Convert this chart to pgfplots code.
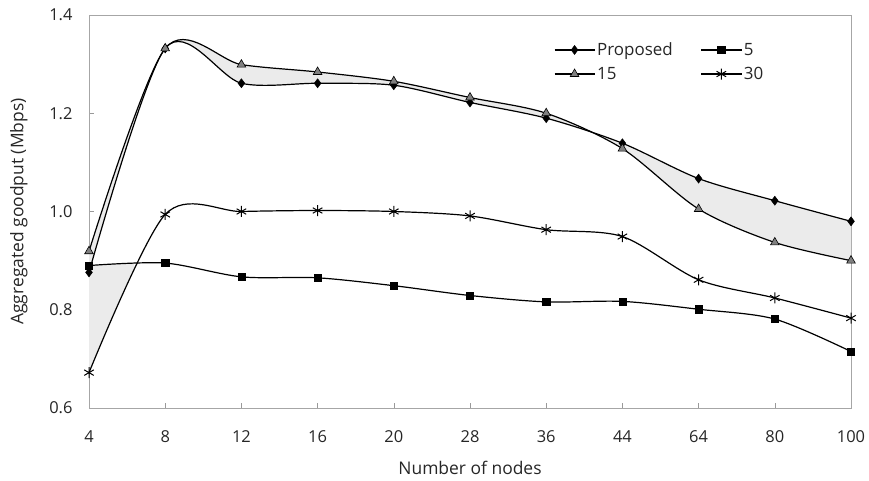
\documentclass[border=0pt]{standalone}
\usepackage{pgfplots}
\pgfplotsset{compat=1.18}
\usepgfplotslibrary{fillbetween}
\usepackage{fontspec}
\setmainfont{Open Sans}
\begin{document}
\begin{tikzpicture}
\begin{axis}[
  set layers,
  at={(0,0)}, anchor=south west,
  width=762bp, height=393bp, scale only axis,
  xmin=0, xmax=10, ymin=0.6, ymax=1.4,
  xtick={0,1,2,3,4,5,6,7,8,9,10},
  xticklabels={4,8,12,16,20,28,36,44,64,80,100},
  ytick={0.6,0.8,1.0,1.2,1.4},
  yticklabel style={/pgf/number format/fixed, /pgf/number format/fixed zerofill, /pgf/number format/precision=1, xshift=-13bp},
  /pgf/number format/assume math mode=true,
  tick pos=left, tick align=inside,
  major tick length=5bp,
  tick style={gray!80, line width=0.5bp},
  axis line style={gray!70, line width=0.6bp},
  tick label style={font=\fontsize{16.5}{19}\selectfont, text=black!85},
  xticklabel style={yshift=-19bp},
  xlabel={Number of nodes},
  ylabel={Aggregated goodput (Mbps)},
  label style={font=\fontsize{17.5}{20}\selectfont, text=black!85},
  xlabel style={at={(axis description cs:0.5,0)}, anchor=north, yshift=-50bp},
  ylabel style={at={(axis description cs:-0.108,0.5)}, anchor=north},
  legend columns=2,
  legend cell align=left,
  legend style={draw=none, fill=none, at={(0.606,0.94)}, anchor=north west,
    font=\fontsize{17}{20}\selectfont, text=black!85,
    /tikz/every even column/.append style={column sep=26bp},
    row sep=6bp,
    nodes={inner sep=2bp}},
  legend image code/.code={\draw[mark repeat=2,mark phase=2,#1] plot coordinates {(0bp,0bp) (20bp,0bp) (40bp,0bp)};},
  ln/.style={black, line width=1.2bp, smooth, tension=0.5},
]
\addplot[ln, name path=prop, mark=diamond*, mark size=4.5bp, mark options={fill=black, line width=0.5bp}]
  coordinates {(0,0.876) (1,1.332) (2,1.261) (3,1.261) (4,1.257) (5,1.222) (6,1.190) (7,1.139) (8,1.067) (9,1.022) (10,0.980)};
\addlegendentry{Proposed}
\addplot[ln, name path=five, mark=square*, mark size=3.6bp, mark options={fill=black, line width=0.5bp}]
  coordinates {(0,0.890) (1,0.895) (2,0.867) (3,0.865) (4,0.849) (5,0.829) (6,0.816) (7,0.817) (8,0.801) (9,0.781) (10,0.715)};
\addlegendentry{5}
\addplot[ln, name path=fifteen, mark=triangle*, mark size=5bp, mark options={fill=gray, draw=black, line width=0.6bp}]
  coordinates {(0,0.919) (1,1.332) (2,1.299) (3,1.284) (4,1.265) (5,1.232) (6,1.200) (7,1.128) (8,1.005) (9,0.937) (10,0.900)};
\addlegendentry{15}
\addplot[ln, name path=thirty, mark=asterisk, mark size=5.5bp, mark options={line width=1bp}]
  coordinates {(0,0.672) (1,0.994) (2,1.000) (3,1.002) (4,1.000) (5,0.991) (6,0.963) (7,0.949) (8,0.861) (9,0.824) (10,0.783)};
\addlegendentry{30}
\addplot[fill=black!8, draw=none, forget plot] fill between[of=prop and fifteen];
\addplot[fill=black!8, draw=none, forget plot] fill between[of=five and thirty, soft clip={domain=0:0.59}];
\end{axis}
\pgfresetboundingbox
\path[use as bounding box] (-89bp,-73bp) rectangle (780bp,408bp);
\end{tikzpicture}
\end{document}
